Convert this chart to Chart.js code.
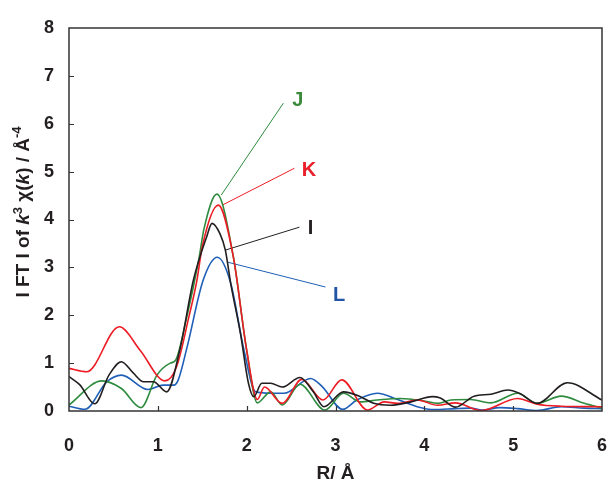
<!DOCTYPE html>
<html>
<head>
<meta charset="utf-8">
<script src="https://cdn.jsdelivr.net/npm/chart.js@4.4.1/dist/chart.umd.min.js"></script>
<style>
  html, body { margin: 0; padding: 0; background: #fff; }
  #wrap { width: 614px; height: 483px; }
</style>
</head>
<body>
<div id="wrap"><canvas id="ftChart" width="614" height="483"></canvas></div>
<script>
// R (Å) / |FT| pairs
const rI = [0, 0.12, 0.29, 0.45, 0.59, 0.72, 0.84, 0.95, 1.10, 1.25, 1.40, 1.55, 1.61, 1.70, 1.76, 1.82, 1.93, 2.02, 2.08, 2.17, 2.27, 2.40, 2.60, 2.75, 2.87, 3.09, 3.28, 3.43, 3.62, 3.85, 4.09, 4.18, 4.35, 4.56, 4.75, 4.94, 5.07, 5.27, 5.61, 6.0];
const ftI = [0.72, 0.55, 0.15, 0.75, 1.03, 0.80, 0.61, 0.61, 0.40, 1.30, 2.73, 3.64, 3.92, 3.70, 3.36, 2.67, 1.62, 0.58, 0.30, 0.58, 0.58, 0.50, 0.70, 0.40, 0.09, 0.40, 0.30, 0.16, 0.12, 0.19, 0.30, 0.27, 0.08, 0.31, 0.35, 0.44, 0.37, 0.16, 0.59, 0.23];

const rK = [0, 0.2, 0.567, 0.80, 1.08, 1.21, 1.35, 1.44, 1.50, 1.68, 1.85, 2.00, 2.12, 2.20, 2.40, 2.62, 2.86, 3.07, 3.36, 3.55, 3.70, 3.92, 4.15, 4.35, 4.64, 5.05, 5.27, 5.54, 6.0];
const ftK = [0.89, 0.82, 1.76, 1.27, 0.63, 0.92, 1.97, 2.73, 3.43, 4.30, 3.22, 1.27, 0.24, 0.50, 0.16, 0.66, 0.23, 0.65, 0.02, 0.19, 0.16, 0.23, 0.12, 0.17, 0.01, 0.26, 0.14, 0.10, 0.09];

const rJ = [0, 0.37, 0.59, 0.81, 0.99, 1.14, 1.20, 1.33, 1.46, 1.52, 1.665, 1.85, 2.00, 2.12, 2.27, 2.40, 2.60, 2.88, 3.09, 3.28, 3.47, 3.73, 4.00, 4.15, 4.30, 4.52, 4.75, 5.05, 5.27, 5.54, 5.80, 6.0];
const ftJ = [0.125, 0.63, 0.47, 0.07, 0.75, 1.00, 1.06, 2.00, 3.15, 3.81, 4.53, 3.22, 1.27, 0.17, 0.40, 0.125, 0.56, 0.02, 0.37, 0.19, 0.23, 0.26, 0.21, 0.16, 0.23, 0.24, 0.17, 0.37, 0.16, 0.31, 0.16, 0.06];

const rL = [0, 0.18, 0.425, 0.59, 0.89, 1.06, 1.18, 1.23, 1.33, 1.51, 1.67, 1.82, 1.97, 2.10, 2.27, 2.42, 2.72, 2.85, 3.08, 3.24, 3.47, 3.70, 3.92, 4.11, 4.35, 4.52, 4.65, 4.85, 5.05, 5.27, 5.54, 5.80, 6.0];
const ftL = [0.10, 0.035, 0.61, 0.75, 0.45, 0.54, 0.54, 0.65, 1.34, 2.73, 3.21, 2.67, 1.27, 0.40, 0.37, 0.37, 0.68, 0.51, 0.035, 0.23, 0.37, 0.24, 0.09, 0.03, 0.05, 0.06, 0.02, 0.07, 0.05, 0.01, 0.09, 0.06, 0.05];

// callouts: leader line from curve to label, in data units
const labelNames = ['J', 'K', 'I', 'L'];
const leaderFromR = [1.714, 1.725, 1.759, 1.782];
const leaderFromY = [4.51, 4.30, 3.36, 3.11];
const leaderToR = [2.413, 2.537, 2.594, 2.887];
const leaderToY = [6.43, 5.07, 3.84, 2.59];
const labelR = [2.575, 2.70, 2.72, 3.04];
const labelY = [6.49, 5.03, 3.82, 2.42];

const xTicks = [0, 1, 2, 3, 4, 5, 6];
const yTicks = [0, 1, 2, 3, 4, 5, 6, 7, 8];

const colors = { I: '#231f20', K: '#ed1c24', J: '#2e8b3e', L: '#1f5fb8' };
const labelColors = { I: '#231f20', K: '#e8202a', J: '#3a8a3a', L: '#2155a5' };
const FONT = '"Liberation Sans", Arial, sans-serif';

function pts(xs, ys) {
    return xs.map((x, i) => ({ x: x, y: ys[i] }));
}

const curves = [
    { name: 'I', data: pts(rI, ftI) },
    { name: 'K', data: pts(rK, ftK) },
    { name: 'J', data: pts(rJ, ftJ) },
    { name: 'L', data: pts(rL, ftL) }
];

const datasets = curves.map(c => ({
    label: c.name,
    data: c.data,
    borderColor: colors[c.name],
    borderWidth: 1.6,
    pointRadius: 0,
    cubicInterpolationMode: 'monotone',
    fill: false
}));

labelNames.forEach((n, i) => {
    datasets.push({
        label: n + ' leader',
        data: [{ x: leaderFromR[i], y: leaderFromY[i] }, { x: leaderToR[i], y: leaderToY[i] }],
        borderColor: colors[n],
        borderWidth: 1,
        pointRadius: 0,
        tension: 0,
        fill: false
    });
});

// frame, inward ticks, callout letters and axis titles
const decorations = {
    id: 'decorations',
    afterDatasetsDraw(chart) {
        const ctx = chart.ctx;
        const a = chart.chartArea;
        const xs = chart.scales.x, ys = chart.scales.y;
        ctx.save();
        ctx.strokeStyle = '#333';
        ctx.lineWidth = 1.5;
        ctx.strokeRect(a.left, a.top, a.right - a.left, a.bottom - a.top);
        ctx.lineWidth = 1.2;
        ctx.beginPath();
        xTicks.slice(1, -1).forEach(v => {
            const px = Math.round(xs.getPixelForValue(v)) + 0.5;
            ctx.moveTo(px, a.bottom);
            ctx.lineTo(px, a.bottom - 5);
        });
        yTicks.slice(1, -1).forEach(v => {
            const py = Math.round(ys.getPixelForValue(v)) + 0.5;
            ctx.moveTo(a.left, py);
            ctx.lineTo(a.left + 5, py);
        });
        ctx.stroke();

        ctx.font = 'bold 20px ' + FONT;
        ctx.textAlign = 'center';
        ctx.textBaseline = 'middle';
        labelNames.forEach((n, i) => {
            ctx.fillStyle = labelColors[n];
            ctx.fillText(n, xs.getPixelForValue(labelR[i]), ys.getPixelForValue(labelY[i]));
        });

        // x title
        ctx.fillStyle = '#231f20';
        ctx.font = 'bold 19px ' + FONT;
        ctx.textBaseline = 'alphabetic';
        ctx.fillText('R/ Å', (a.left + a.right) / 2, 479);

        // y title with italic k and superscripts
        const parts = [
            { t: 'I FT I of ', f: 'bold 19px ' },
            { t: 'k', f: 'italic bold 19px ' },
            { t: '3', f: 'bold 13px ', up: 7 },
            { t: ' χ(', f: 'bold 19px ' },
            { t: 'k', f: 'italic bold 19px ' },
            { t: ') / Å', f: 'bold 19px ' },
            { t: '-4', f: 'bold 13px ', up: 8 }
        ];
        let total = 0;
        parts.forEach(p => { ctx.font = p.f + FONT; p.w = ctx.measureText(p.t).width; total += p.w; });
        ctx.translate(29, 212);
        ctx.rotate(-Math.PI / 2);
        ctx.textAlign = 'left';
        let cx = -total / 2;
        parts.forEach(p => {
            ctx.font = p.f + FONT;
            ctx.fillText(p.t, cx, -(p.up || 0));
            cx += p.w;
        });
        ctx.restore();
    }
};

new Chart(document.getElementById('ftChart'), {
    type: 'line',
    data: { datasets: datasets },
    options: {
        responsive: false,
        animation: false,
        layout: { padding: { top: 28, right: 12, left: 0, bottom: 0 } },
        plugins: { legend: { display: false }, tooltip: { enabled: false } },
        scales: {
            x: {
                type: 'linear',
                min: 0,
                max: 6,
                afterFit: s => { s.height = 72; s.paddingLeft = 0; s.paddingRight = 0; },
                afterBuildTicks: s => { s.ticks = xTicks.map(v => ({ value: v })); },
                grid: { display: false, drawTicks: false },
                border: { display: false },
                ticks: {
                    padding: 24,
                    color: '#231f20',
                    font: { family: FONT, size: 18, weight: 'bold' },
                    maxRotation: 0
                }
            },
            y: {
                min: 0,
                max: 8,
                afterFit: s => { s.width = 69; },
                afterBuildTicks: s => { s.ticks = yTicks.map(v => ({ value: v })); },
                grid: { display: false, drawTicks: false },
                border: { display: false },
                ticks: {
                    padding: 15,
                    color: '#231f20',
                    font: { family: FONT, size: 18, weight: 'bold' }
                }
            }
        }
    },
    plugins: [decorations]
});
</script>
</body>
</html>
